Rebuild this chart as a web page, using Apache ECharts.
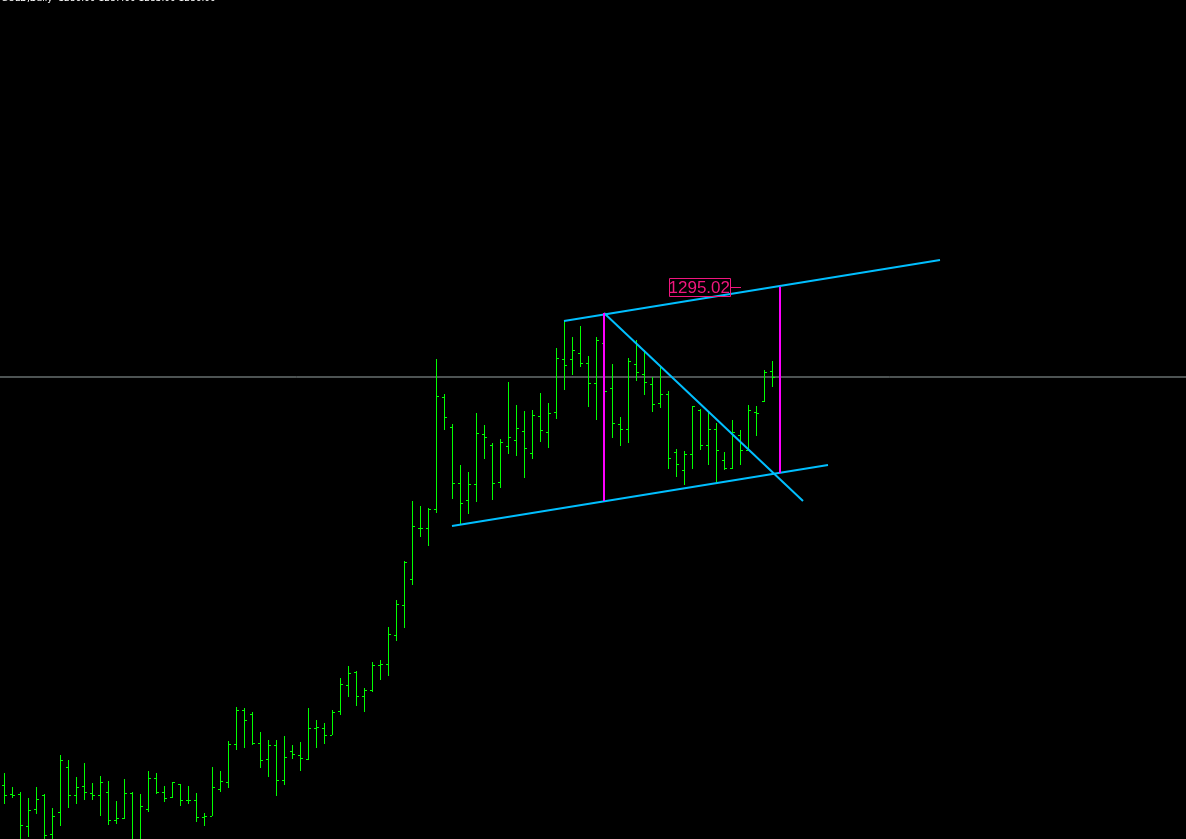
<!DOCTYPE html>
<html>
<head>
<meta charset="utf-8">
<script src="https://cdn.jsdelivr.net/npm/echarts@6/dist/echarts.min.js"></script>
<style>
html,body{margin:0;padding:0;background:#000;}
#chart{width:1186px;height:839px;}
</style>
</head>
<body>
<div id="chart"></div>
<script>
// ---- data (prices) ----
const opens = [1245.2,1244.3,1244.3,1241.1,1242.8,1244.2,1240.3,1242.5,1247.0,1244.2,
1245.1,1244.4,1244.2,1244.5,1241.7,1241.9,1244.4,1239.7,1242.8,1245.9,
1244.5,1244.0,1245.3,1243.7,1243.7,1242.0,1242.1,1244.8,1245.5,1249.3,
1252.7,1252.3,1249.4,1247.8,1249.2,1245.7,1248.6,1248.2,1247.8,1250.9,
1250.9,1250.2,1252.6,1255.2,1256.5,1254.1,1254.7,1257.2,1257.3,1260.2,
1263.2,1265.8,1270.9,1270.9,1272.8,1284.0,1281.0,1275.4,1273.7,1275.3,
1280.3,1279.2,1275.5,1279.1,1279.7,1280.6,1278.4,1282.1,1280.5,1282.5,
1287.8,1287.8,1288.4,1287.4,1285.4,1289.4,1284.9,1281.3,1280.8,1287.3,
1286.3,1285.3,1283.4,1284.3,1278.5,1276.7,1278.3,1282.7,1279.2,1280.8,
1277.7,1276.9,1280.2,1278.7,1282.5,1283.6,1286.6];
const highs = [1246.4,1245.0,1244.5,1243.9,1245.0,1244.3,1242.9,1248.2,1247.7,1246.0,
1247.4,1245.4,1246.1,1245.6,1243.6,1245.8,1244.5,1244.3,1246.6,1246.4,
1245.1,1245.5,1245.3,1245.1,1244.4,1242.4,1247.0,1246.6,1249.6,1253.0,
1252.9,1252.5,1250.5,1249.7,1249.7,1250.1,1249.2,1249.5,1252.9,1251.7,
1251.4,1252.7,1255.9,1257.1,1256.6,1254.9,1257.5,1257.7,1261.0,1263.7,
1267.6,1273.6,1273.1,1272.9,1287.8,1284.3,1281.3,1277.2,1276.5,1282.4,
1281.2,1279.4,1279.8,1285.5,1283.2,1282.6,1282.7,1284.4,1283.4,1288.9,
1291.6,1290.0,1291.1,1288.1,1290.0,1289.9,1287.3,1282.0,1287.9,1289.7,
1288.7,1286.0,1287.0,1284.6,1278.8,1278.6,1283.1,1282.8,1282.6,1281.4,
1278.5,1281.7,1280.7,1283.2,1283.1,1286.7,1287.6];
const lows = [1243.3,1243.9,1239.7,1240.0,1242.3,1239.5,1239.1,1241.1,1242.9,1243.3,
1243.7,1243.7,1242.1,1241.2,1241.3,1241.8,1238.9,1239.2,1242.5,1244.3,
1243.5,1243.9,1243.1,1243.3,1241.5,1241.1,1242.1,1244.5,1244.9,1248.7,
1248.9,1249.2,1246.9,1246.0,1244.1,1245.2,1247.8,1246.6,1247.7,1248.9,
1249.3,1250.2,1252.2,1254.0,1253.1,1252.5,1254.5,1255.7,1256.1,1259.6,
1260.9,1265.2,1270.0,1269.1,1272.4,1280.7,1273.8,1271.3,1272.3,1273.5,
1277.8,1273.7,1274.9,1278.3,1278.1,1275.9,1277.8,1279.5,1278.9,1281.8,
1284.7,1286.2,1287.0,1283.0,1281.7,1284.2,1279.9,1279.1,1279.4,1285.6,
1284.2,1282.5,1282.9,1276.8,1276.0,1275.2,1276.8,1278.7,1277.2,1275.5,
1276.7,1276.8,1277.2,1278.7,1280.1,1283.5,1285.0];
const closes = [1244.2,1244.2,1241.2,1242.7,1243.8,1240.2,1242.1,1247.7,1244.2,1245.0,
1244.5,1244.2,1245.5,1241.7,1241.9,1244.4,1239.5,1243.1,1245.9,1244.5,
1243.9,1245.5,1243.7,1243.7,1242.0,1242.1,1245.0,1245.6,1249.3,1252.7,
1251.7,1249.4,1247.7,1249.2,1245.7,1248.0,1248.3,1247.9,1250.9,1251.0,
1250.2,1252.5,1255.3,1256.4,1254.1,1254.7,1257.2,1257.3,1260.3,1263.3,
1267.5,1271.1,1270.9,1272.8,1284.1,1282.0,1275.4,1273.4,1275.3,1280.4,
1280.0,1275.4,1279.5,1280.0,1280.9,1278.9,1282.2,1280.7,1282.4,1287.9,
1287.2,1288.7,1287.4,1285.4,1289.7,1284.6,1281.4,1280.8,1287.6,1286.5,
1285.5,1283.3,1284.3,1277.9,1277.3,1278.3,1283.1,1279.2,1280.8,1278.7,
1276.9,1280.5,1278.7,1282.7,1282.4,1286.5,1286.0];

// trend lines: [bar index, price]
const lowerChannel = [[56, 1271.1], [103, 1277.2]];
const upperChannel = [[70, 1291.6], [117, 1297.7]];
const declineLine  = [[75, 1292.4], [99.875, 1273.6]];
const poleLeft     = [[75, 1292.4], [75, 1273.6]];
const poleRight    = [[97, 1295.02], [97, 1276.4]];
const targetLabel  = [97, 1295.02];
const bidPrice = 1286.0;
const headerText = 'GOLD,Daily  1286.60 1287.60 1285.00 1286.00';

// ---- chart ----
const ohlc = opens.map((o, i) => [i, o, highs[i], lows[i], closes[i]]);
const chart = echarts.init(document.getElementById('chart'), null, {renderer: 'canvas'});
const BAR = '#00FF00', CYAN = '#00BFFF', MAG = '#FF00FF', PINK = '#F0167E';

function renderOHLC(params, api) {
  const i = api.value(0);
  const pO = api.coord([i, api.value(1)]);
  const pH = api.coord([i, api.value(2)]);
  const pL = api.coord([i, api.value(3)]);
  const pC = api.coord([i, api.value(4)]);
  const x = Math.round(pH[0]);
  const yH = Math.round(pH[1]), yL = Math.round(pL[1]);
  return {type: 'group', children: [
    {type: 'rect', shape: {x: x, y: yH, width: 1, height: Math.max(1, yL - yH)}, style: {fill: BAR}},
    {type: 'rect', shape: {x: x - 2, y: Math.round(pO[1]), width: 2, height: 1}, style: {fill: BAR}},
    {type: 'rect', shape: {x: x + 1, y: Math.round(pC[1]), width: 2, height: 1}, style: {fill: BAR}}
  ]};
}

function renderLabel(params, api) {
  const p = api.coord([api.value(0), api.value(1)]);
  const x = Math.round(p[0]), y = Math.round(p[1]);
  return {type: 'group', children: [
    {type: 'rect', shape: {x: x - 110.5, y: y - 8.5, width: 61, height: 18}, style: {fill: 'none', stroke: PINK, lineWidth: 1}},
    {type: 'line', shape: {x1: x - 49, y1: y + 0.5, x2: x - 39, y2: y + 0.5}, style: {stroke: PINK, lineWidth: 1}},
    {type: 'text', style: {text: '1295.02', x: x - 50, y: y + 1, align: 'right', verticalAlign: 'middle',
      fill: PINK, font: '17px "Liberation Sans", Arial, sans-serif'}}
  ]};
}

function lineSeries(data, color, width) {
  return {type: 'line', data: data, symbol: 'none', silent: true, z: 3,
    lineStyle: {color: color, width: width}};
}

chart.setOption({
  backgroundColor: '#000',
  animation: false,
  grid: {left: 0, right: 0, top: 0, bottom: 0},
  xAxis: {type: 'value', min: -0.5, max: 147.75, show: false},
  yAxis: {type: 'value', min: 1239.8, max: 1323.7, show: false},
  graphic: [{type: 'text', x: 1, y: 3.5, style: {text: headerText, fill: '#fff', verticalAlign: 'bottom',
    font: '9px "DejaVu Sans", sans-serif'}}],
  series: [
    {type: 'line', data: [[-0.5, bidPrice], [147.75, bidPrice]], symbol: 'none', silent: true, z: 1,
      lineStyle: {color: '#9aa6a6', width: 1}},
    {type: 'custom', renderItem: renderOHLC, data: ohlc, z: 2, encode: {x: 0, y: [1, 2, 3, 4]}},
    lineSeries(lowerChannel, CYAN, 2),
    lineSeries(upperChannel, CYAN, 2),
    lineSeries(declineLine, CYAN, 2),
    lineSeries(poleLeft, MAG, 2),
    lineSeries(poleRight, MAG, 2),
    {type: 'custom', renderItem: renderLabel, data: [targetLabel], z: 5}
  ]
});
</script>
</body>
</html>
